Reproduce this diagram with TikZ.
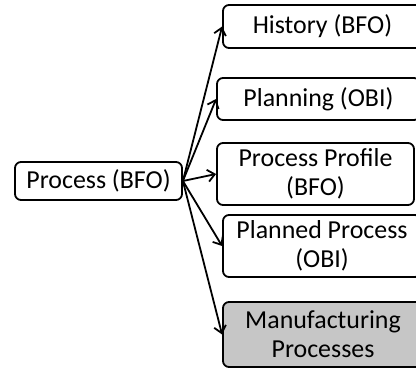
\documentclass[tikz,border=0pt]{standalone}
\usepackage{fontspec}
\setmainfont{Carlito}
\usepackage{tikz}
\usetikzlibrary{arrows.meta}

\begin{document}
\begin{tikzpicture}[x=1bp, y=1bp, >={Straight Barb[length=7bp, width=12bp]},
    box/.style={draw, line width=1.8bp, rounded corners=6bp, align=center,
        inner sep=0pt, font=\fontsize{26}{29}\selectfont},
    link/.style={->, line width=1.8bp}]
    % Rahmen
    \useasboundingbox (0,0) rectangle (416,370);
    \clip (0,0) rectangle (416,370);

    % Knoten
    \node[box, minimum width=167bp, minimum height=38bp] (proc) at (98.5,189) {Process (BFO)};
    \node[box, minimum width=199bp, minimum height=43bp] (hist) at (322.5,343.5) {History (BFO)};
    \node[box, minimum width=203bp, minimum height=42bp] (plan) at (318.5,271) {Planning (OBI)};
    \node[box, minimum width=197bp, minimum height=62bp] (prof) at (315.5,196) {Process Profile\\(BFO)};
    \node[box, minimum width=198bp, minimum height=62bp] (pland) at (322,124) {Planned Process\\(OBI)};
    \node[box, fill=gray!45, minimum width=200bp, minimum height=65bp] (manu) at (323,35.5) {Manufacturing\\Processes};

    % Pfeile
    \foreach \t in {hist, plan, prof, pland, manu}
        \draw[link] (proc.east) -- (\t.west);
\end{tikzpicture}
\end{document}
